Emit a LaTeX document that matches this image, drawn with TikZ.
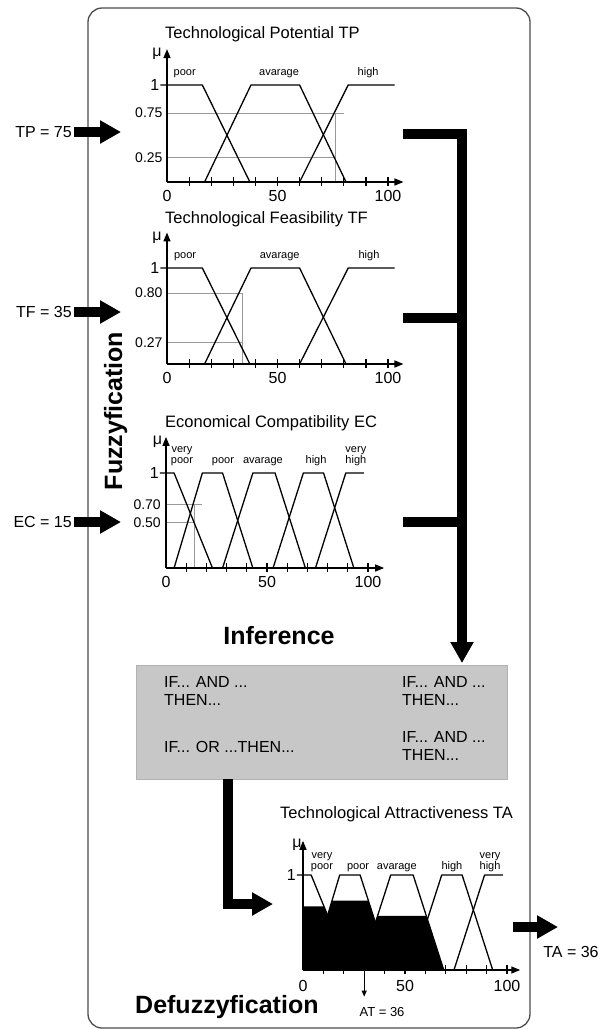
\documentclass[tikz,border=0pt]{standalone}
\usepackage{fontspec}
\setmainfont{Liberation Sans}
\usetikzlibrary{arrows.meta}
\tikzset{
  frame/.style   ={draw=black!70,line width=1.3pt,rounded corners=14pt},
  ttl/.style     ={anchor=west,inner sep=0pt,font=\fontsize{16.5}{18}\selectfont},
  term/.style    ={anchor=south,align=center,inner sep=0pt,font=\fontsize{11}{11.5}\selectfont},
  num/.style     ={inner sep=0pt,font=\fontsize{16}{18}\selectfont},
  unitlbl/.style ={anchor=east,inner sep=1pt,font=\fontsize{16}{18}\selectfont},
  lvl/.style     ={anchor=east,inner sep=1pt,font=\fontsize{14}{16}\selectfont},
  mu/.style      ={inner sep=0pt,font=\fontsize{16}{18}\selectfont},
  axis/.style    ={line width=1.4pt,-{Triangle[length=9pt,width=7pt]}},
  tick/.style    ={line width=1.2pt},
  mf/.style      ={line width=1.3pt,line join=round},
  guide/.style   ={draw=black!40,line width=0.9pt},
  invalue/.style ={anchor=east,inner sep=2pt,font=\fontsize{16}{18}\selectfont},
  stage/.style   ={inner sep=0pt,font=\bfseries\fontsize{25}{28}\selectfont},
  rulebox/.style ={draw=black!30,fill=black!22,minimum width=371pt,minimum height=114pt},
  rule/.style    ={anchor=north west,align=left,inner sep=0pt,font=\fontsize{16}{18}\selectfont},
  fat/.style     ={line width=10pt},
  fatarrow/.style={line width=10pt,-{Triangle[length=21pt,width=22pt]}},
}

\begin{document}
\begin{tikzpicture}[x=1pt,y=-1pt]
  \useasboundingbox (0,0) rectangle (599,1029);
  \draw[frame] (88,8) rectangle (530,1028);

  % fuzzyfication: technological potential
  \node[ttl] (tptitle) at (165,34) {Technological Potential TP};
  \begin{scope}[shift={(167,182)},x=2.21pt,y=97pt]
    \draw[guide] (0,0.71) -- (80,0.71) (0,0.25) -- (76,0.25) (76,0.71) -- (76,0);
    \draw[axis] (0,0) -- (107,0);
    \draw[axis] (0,0) -- (0,1.37);
    \foreach \t in {10,20,...,100} \draw[tick] (\t,-0.04) -- (\t,0.05);
    \draw[mf] (-3,1) -- (16,1) -- (37.5,0);
    \draw[mf] (17,0) -- (38,1) -- (60,1) -- (81,0);
    \draw[mf] (60,0) -- (82,1) -- (103,1);
    \node[mu] at (-4.5,1.32) {μ};
    \node[unitlbl] at (-3,1) {1};
    \node[lvl] at (-1.5,0.71) {0.75};
    \node[lvl] at (-1.5,0.25) {0.25};
    \node[term] at (8,1.07) {poor};
    \node[term] at (50.7,1.07) {avarage};
    \node[term] at (91,1.07) {high};
    \foreach \v in {0,50,100} \node[num] at (\v,-0.145) {\v};
  \end{scope}

  % technological feasibility
  \node[ttl] (tftitle) at (165,219) {Technological Feasibility TF};
  \begin{scope}[shift={(167,364)},x=2.21pt,y=96pt]
    \draw[guide] (0,0.74) -- (34,0.74) (0,0.22) -- (34,0.22) (34,0.74) -- (34,0);
    \draw[axis] (0,0) -- (107,0);
    \draw[axis] (0,0) -- (0,1.37);
    \foreach \t in {10,20,...,100} \draw[tick] (\t,-0.04) -- (\t,0.05);
    \draw[mf] (-3,1) -- (16,1) -- (37.5,0);
    \draw[mf] (17,0) -- (38,1) -- (60,1) -- (81,0);
    \draw[mf] (60,0) -- (82,1) -- (103,1);
    \node[mu] at (-4.5,1.31) {μ};
    \node[unitlbl] at (-3,1) {1};
    \node[lvl] at (-1.5,0.74) {0.80};
    \node[lvl] at (-1.5,0.22) {0.27};
    \node[term] at (8.2,1.07) {poor};
    \node[term] at (51,1.07) {avarage};
    \node[term] at (91.4,1.07) {high};
    \foreach \v in {0,50,100} \node[num] at (\v,-0.145) {\v};
  \end{scope}

  % economical compatibility
  \node[ttl] (ectitle) at (165,423) {Economical Compatibility EC};
  \begin{scope}[shift={(166,568)},x=2.02pt,y=95pt]
    \draw[guide] (0,0.67) -- (18,0.67) (0,0.48) -- (14,0.48) (14,0.67) -- (14,0);
    \draw[axis] (0,0) -- (108,0);
    \draw[axis] (0,0) -- (0,1.38);
    \foreach \t in {10,20,...,100} \draw[tick] (\t,-0.04) -- (\t,0.05);
    \draw[mf] (-3,1) -- (4,1) -- (23,0);
    \draw[mf] (4,0) -- (18,1) -- (28,1) -- (43,0);
    \draw[mf] (28,0) -- (43,1) -- (54,1) -- (69,0);
    \draw[mf] (53,0) -- (68,1) -- (78,1) -- (93,0);
    \draw[mf] (74,0) -- (89,1) -- (98,1);
    \node[mu] at (-4.2,1.33) {μ};
    \node[unitlbl] at (-3,1) {1};
    \node[lvl] at (-2,0.67) {0.70};
    \node[lvl] at (-2,0.48) {0.50};
    \node[term] at (7.9,1.07) {very\\poor};
    \node[term] at (28.2,1.07) {poor};
    \node[term] at (48,1.07) {avarage};
    \node[term] at (74.3,1.07) {high};
    \node[term] at (94,1.07) {very\\high};
    \foreach \v in {0,50,100} \node[num] at (\v,-0.145) {\v};
  \end{scope}

  % input values
  \node[invalue] (tpin) at (74,132) {TP = 75};
  \node[invalue] (tfin) at (74,312) {TF = 35};
  \node[invalue] (ecin) at (74,522) {EC = 15};
  \coordinate (tpax) at (121,132);
  \coordinate (tfax) at (121,312);
  \coordinate (ecax) at (121,522);
  \draw[fatarrow] (tpin) -- (tpax);
  \draw[fatarrow] (tfin) -- (tfax);
  \draw[fatarrow] (ecin) -- (ecax);

  \node[stage,rotate=90,anchor=base] (fuzz) at (122,411) {Fuzzyfication};

  % inference
  \node[stage] (infer) at (279,636) {Inference};
  \node[rulebox] (rules) at (321.5,722) {};
  \node[rule] (r1) at (164,676) {IF... AND ...\\THEN...};
  \node[rule] (r2) at (164,741) {IF... OR ...THEN...};
  \node[rule] (r3) at (402,676) {IF... AND ...\\THEN...};
  \node[rule] (r4) at (402,731) {IF... AND ...\\THEN...};

  \coordinate (tpout) at (403,133.5);
  \coordinate (tfout) at (403,318);
  \coordinate (ecout) at (403,522);
  \coordinate (infin) at (462,663);
  \draw[fatarrow] (tpout) -| (infin);
  \draw[fat] (tfout) -- (tfout -| infin);
  \draw[fat] (ecout) -- (ecout -| infin);

  \coordinate (ruleout) at (228,779);
  \coordinate (tain) at (273,904);
  \draw[fatarrow] (ruleout) |- (tain);

  % defuzzyfication: technological attractiveness
  \node[ttl] (tatitle) at (280,814) {Technological Attractiveness TA};
  \begin{scope}[shift={(303,970)},x=2.04pt,y=95pt]
    \fill (0,0) -- (0,0.67) -- (10.3,0.67) -- (12.06,0.576) -- (14.2,0.73)
      -- (32.05,0.73) -- (35.5,0.5) -- (36.55,0.57) -- (60.45,0.57) -- (69,0) -- cycle;
    \draw[axis] (0,0) -- (106.5,0);
    \draw[axis] (0,0) -- (0,1.36);
    \foreach \t in {10,20,...,100} \draw[tick] (\t,-0.04) -- (\t,0.05);
    \draw[mf] (-3,1) -- (4,1) -- (23,0);
    \draw[mf] (4,0) -- (18,1) -- (28,1) -- (43,0);
    \draw[mf] (28,0) -- (43,1) -- (54,1) -- (69,0);
    \draw[mf] (53,0) -- (68,1) -- (78,1) -- (93,0);
    \draw[mf] (74,0) -- (89,1) -- (98,1);
    \draw[line width=1pt,-{Triangle[length=6pt,width=5pt]}] (30,0.05) -- (30,-0.28);
    \node[mu] at (-3,1.32) {μ};
    \node[unitlbl] at (-3,1) {1};
    \node[term] at (9.3,1.03) {very\\poor};
    \node[term] at (27,1.03) {poor};
    \node[term] at (46,1.03) {avarage};
    \node[term] at (73,1.03) {high};
    \node[term] at (91.7,1.03) {very\\high};
    \foreach \v in {0,50,100} \node[num] at (\v,-0.165) {\v};
  \end{scope}
  \node[inner sep=0pt,font=\fontsize{13}{15}\selectfont] (atval) at (382,1012) {AT = 36};
  \node[stage,anchor=base west] (defuzz) at (135,1013) {Defuzzyfication};

  \coordinate (taout) at (513,927);
  \coordinate (taend) at (558,927);
  \draw[fatarrow] (taout) -- (taend);
  \node[invalue,anchor=center] (tares) at (571,952) {TA = 36};
\end{tikzpicture}
\end{document}
